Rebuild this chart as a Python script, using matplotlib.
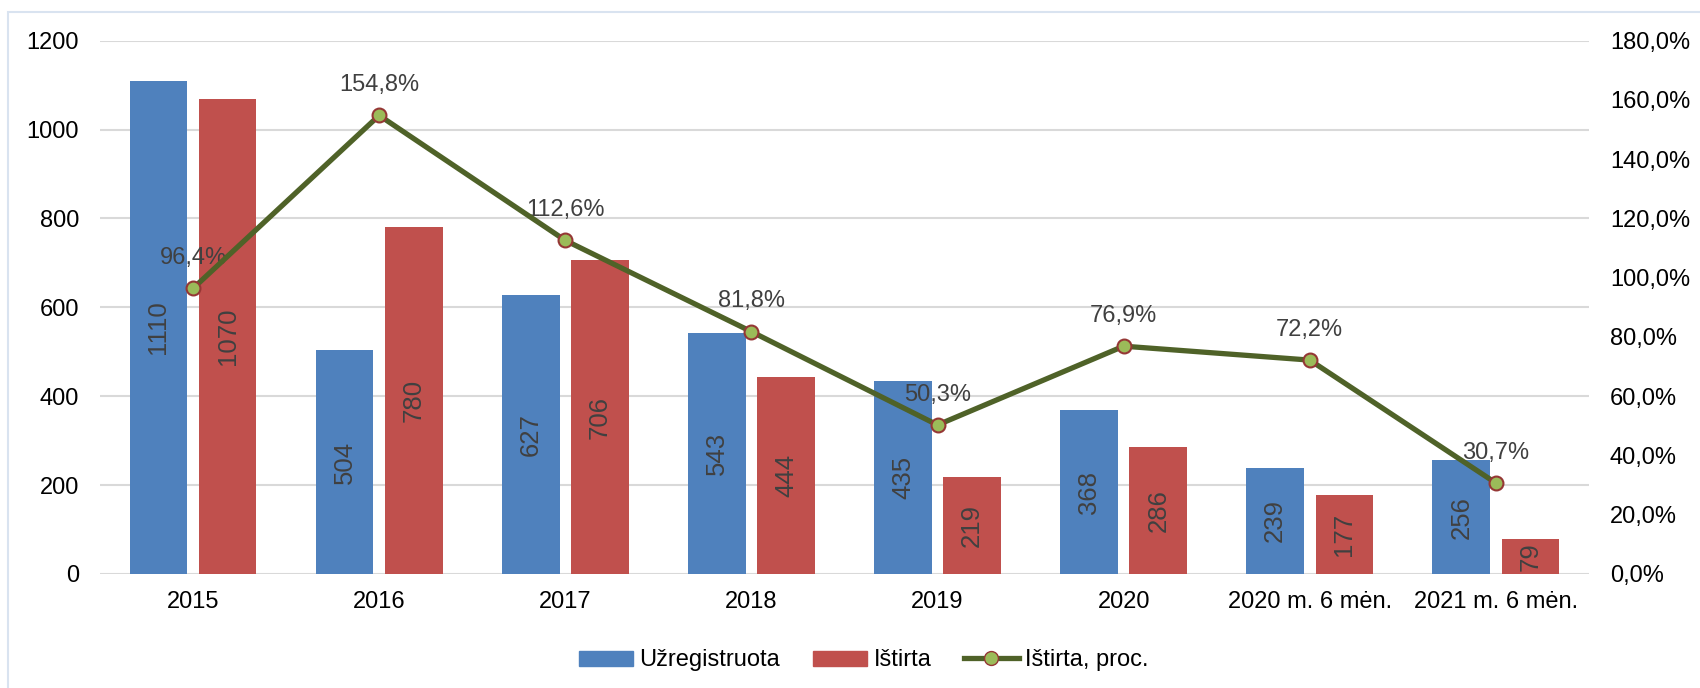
import matplotlib.pyplot as plt
import numpy as np
from matplotlib.patches import Patch, Rectangle
from matplotlib.lines import Line2D
from matplotlib.ticker import FuncFormatter

plt.rcParams['font.family'] = ['Liberation Sans', 'DejaVu Sans']

# Data
categories = ['2015', '2016', '2017', '2018', '2019', '2020', '2020 m. 6 mėn.', '2021 m. 6 mėn.']
registered = [1110, 504, 627, 543, 435, 368, 239, 256]
investigated = [1070, 780, 706, 444, 219, 286, 177, 79]
percent = [96.4, 154.8, 112.6, 81.8, 50.3, 76.9, 72.2, 30.7]

blue = '#4F81BD'
red = '#C0504D'
olive = '#4F6228'
label_gray = '#404040'

fig = plt.figure(figsize=(17, 6.88), dpi=100)
ax = fig.add_axes([0.0588, 0.1657, 0.8759, 0.7751])
ax2 = ax.twinx()

# light outer frame
fig.patches.append(Rectangle((8 / 1700, -0.1), 1.2, 1 - 12 / 688 + 0.1, transform=fig.transFigure,
                             fill=False, edgecolor='#D9E3F0', linewidth=1.5))

x = np.arange(len(categories))
w = 0.31
off = 0.186
b1 = ax.bar(x - off, registered, w, color=blue, zorder=2)
b2 = ax.bar(x + off, investigated, w, color=red, zorder=2)

for bars, vals in ((b1, registered), (b2, investigated)):
    for rect, v in zip(bars, vals):
        ax.text(rect.get_x() + rect.get_width() / 2, v / 2, str(v), rotation=90,
                ha='center', va='center', fontsize=18.5, color=label_gray, zorder=3)

ax.set_ylim(0, 1200)
ax.set_yticks(range(0, 1201, 200))
ax.set_xlim(-0.5, len(categories) - 0.5)
ax.set_xticks(x)
ax.set_xticklabels(categories)
ax.grid(axis='y', color='#D9D9D9', linewidth=1.5, zorder=0)
ax.set_axisbelow(True)
ax.tick_params(axis='both', length=0, labelsize=17, colors='black')
ax.tick_params(axis='x', pad=12)
ax.tick_params(axis='y', pad=15)
for s in ax.spines.values():
    s.set_visible(False)

ax2.plot(x, percent, color=olive, linewidth=3.8, marker='o', markersize=10,
         markerfacecolor='#9BBB59', markeredgecolor='#953735', markeredgewidth=1.5, zorder=4)
for xi, p in zip(x, percent):
    ax2.annotate(f'{p:.1f}%'.replace('.', ','), (xi, p), xytext=(0, 14), textcoords='offset points',
                 ha='center', va='bottom', fontsize=17, color=label_gray)
ax2.set_ylim(0, 180)
ax2.set_yticks(range(0, 181, 20))
ax2.yaxis.set_major_formatter(FuncFormatter(lambda v, _: f'{v:.1f}%'.replace('.', ',')))
ax2.tick_params(axis='y', length=0, labelsize=17, pad=15)
for s in ax2.spines.values():
    s.set_visible(False)

handles = [Patch(color=blue, label='Užregistruota'),
           Patch(color=red, label='Ištirta'),
           Line2D([0], [0], color=olive, linewidth=3.8, marker='o', markersize=10,
                  markerfacecolor='#9BBB59', markeredgecolor='#953735', label='Ištirta, proc.')]
fig.legend(handles=handles, loc='center', bbox_to_anchor=(0.508, 0.04), ncol=3, frameon=False,
           fontsize=17, handlelength=2.3, handleheight=0.62, handletextpad=0.25, columnspacing=1.4)

fig.savefig('out.png', dpi=100)
